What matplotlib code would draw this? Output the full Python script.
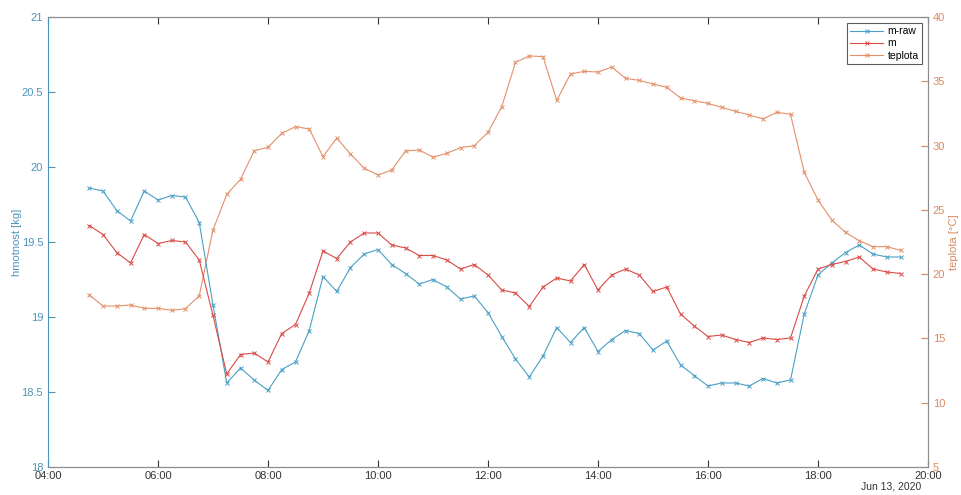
import numpy as np
import pandas as pd
import matplotlib
matplotlib.use("Agg")
import matplotlib.pyplot as plt
import matplotlib.dates as mdates

plt.rcParams['font.family'] = ['Liberation Sans', 'DejaVu Sans']

# 15-minute samples, 04:45 .. 19:30 on Jun 13, 2020
cas = pd.date_range("2020-06-13 04:45", "2020-06-13 19:30", freq="15min")

m_raw = [19.86, 19.84, 19.71, 19.64, 19.84, 19.78, 19.81, 19.80, 19.63, 19.08,
         18.56, 18.66, 18.58, 18.51, 18.65, 18.70, 18.91, 19.27, 19.17, 19.33,
         19.42, 19.45, 19.35, 19.29, 19.22, 19.25, 19.20, 19.12, 19.14, 19.03,
         18.87, 18.72, 18.60, 18.74, 18.93, 18.83, 18.93, 18.77, 18.85, 18.91,
         18.89, 18.78, 18.84, 18.68, 18.61, 18.54, 18.56, 18.56, 18.54, 18.59,
         18.56, 18.58, 19.02, 19.28, 19.36, 19.43, 19.48, 19.42, 19.40, 19.40]

m = [19.61, 19.55, 19.43, 19.36, 19.55, 19.49, 19.51, 19.50, 19.38, 19.01,
     18.62, 18.75, 18.76, 18.70, 18.89, 18.95, 19.16, 19.44, 19.39, 19.50,
     19.56, 19.56, 19.48, 19.46, 19.41, 19.41, 19.38, 19.32, 19.35, 19.28,
     19.18, 19.16, 19.07, 19.20, 19.26, 19.24, 19.35, 19.18, 19.28, 19.32,
     19.28, 19.17, 19.20, 19.02, 18.94, 18.87, 18.88, 18.85, 18.83, 18.86,
     18.85, 18.86, 19.14, 19.32, 19.35, 19.37, 19.40, 19.32, 19.30, 19.29]

teplota = [18.38, 17.52, 17.52, 17.60, 17.34, 17.34, 17.19, 17.31, 18.33, 23.43,
           26.21, 27.37, 29.60, 29.86, 30.95, 31.47, 31.29, 29.14, 30.59, 29.34,
           28.23, 27.71, 28.10, 29.58, 29.66, 29.09, 29.40, 29.84, 29.99, 31.03,
           33.03, 36.47, 36.97, 36.92, 33.52, 35.57, 35.77, 35.72, 36.11, 35.23,
           35.07, 34.79, 34.53, 33.70, 33.49, 33.28, 32.97, 32.66, 32.38, 32.07,
           32.59, 32.43, 27.92, 25.77, 24.21, 23.25, 22.60, 22.14, 22.14, 21.85]

c_left = '#4d94b8'
c_right = '#d9895f'
c_raw = '#4aa0c4'
c_m = '#d94a46'
c_tep = '#e3906a'

fig = plt.figure(figsize=(9.61, 4.95), dpi=100)
ax = fig.add_axes([48/961, 1-467/495, (928-48)/961, 450/495])
ax2 = ax.twinx()

st = dict(marker='x', ms=3.5, lw=0.8, mew=0.7)
l1, = ax.plot(cas, m_raw, color=c_raw, label='m-raw', **st)
l2, = ax.plot(cas, m, color=c_m, label='m', **st)
l3, = ax2.plot(cas, teplota, color=c_tep, label='teplota', **st)

ax.set_xlim(pd.Timestamp("2020-06-13 04:00"), pd.Timestamp("2020-06-13 20:00"))
ax.set_ylim(18, 21)
ax2.set_ylim(5, 40)
ax.set_yticks(np.arange(18, 21.01, 0.5))
ax.set_yticklabels(['18', '18.5', '19', '19.5', '20', '20.5', '21'])
ax2.set_yticks(np.arange(5, 41, 5))

ax.xaxis.set_major_locator(mdates.HourLocator(byhour=range(0, 24, 2)))
ax.xaxis.set_major_formatter(mdates.DateFormatter('%H:%M'))

for a in (ax, ax2):
    for s in a.spines.values():
        s.set_linewidth(0.8)
        s.set_color('#8c8c8c')
ax.spines['left'].set_color(c_left)
ax2.spines['right'].set_color(c_right)
ax2.spines['left'].set_visible(False)

ax.tick_params(axis='x', direction='in', top=True, length=5, width=0.8,
               colors='#333333', labelsize=8, pad=3)
ax.tick_params(axis='y', direction='in', length=5, width=0.8,
               colors=c_left, labelsize=8)
ax2.tick_params(axis='y', direction='in', length=5, width=0.8,
                colors=c_right, labelsize=8)

ax.set_ylabel('hmotnost [kg]', color=c_left, fontsize=8, labelpad=0)
ax2.set_ylabel('teplota [°C]', color=c_right, fontsize=8, labelpad=3)

fig.text(0.959, 0.008, 'Jun 13, 2020', ha='right', va='bottom', fontsize=7.5, color='#333333')

leg = ax.legend(handles=[l1, l2, l3], loc='upper right', fontsize=7.5,
                frameon=True, fancybox=False, edgecolor='#333333',
                borderaxespad=0.6, handlelength=3.2, labelspacing=0.2,
                borderpad=0.3, handletextpad=0.4)
leg.get_frame().set_linewidth(0.8)
ax2.set_zorder(0)
ax.set_zorder(1)
ax.patch.set_visible(False)

fig.savefig('out.png', dpi=100)
